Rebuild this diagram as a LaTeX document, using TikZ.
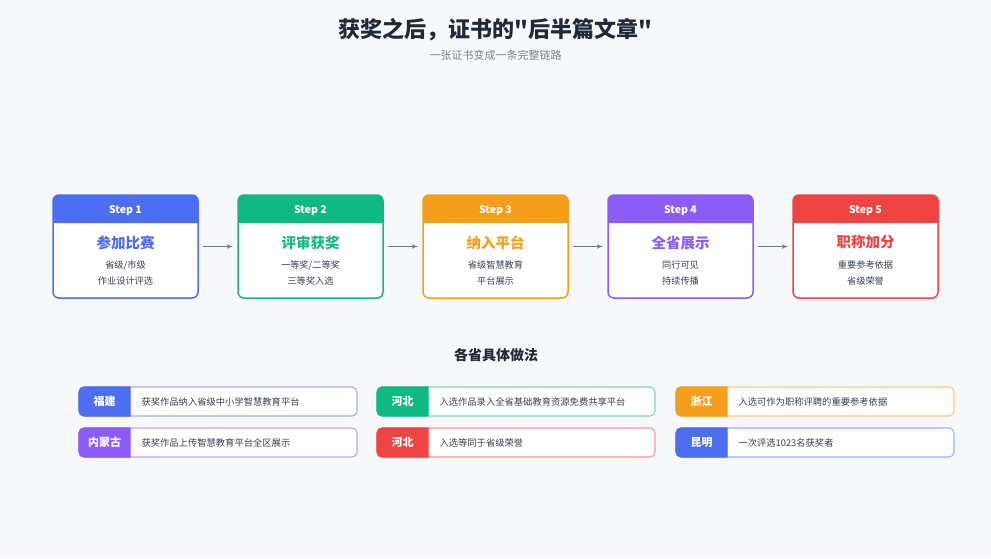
\documentclass[tikz,border=0pt]{standalone}
\usepackage{fontspec}
\setmainfont{Noto Sans CJK SC}[Ligatures=TeXOff]
\usepackage{tikz}
\usetikzlibrary{arrows, positioning}

\definecolor{pagebg}{HTML}{F7F8FC}
\definecolor{titlegray}{HTML}{1F2937}
\definecolor{subgray}{HTML}{6B7280}
\definecolor{textgray}{HTML}{374151}
\definecolor{arrowgray}{HTML}{6B7A90}
\definecolor{stepblue}{HTML}{4E6EF2}
\definecolor{stepgreen}{HTML}{10B981}
\definecolor{steporange}{HTML}{F59E1B}
\definecolor{steppurple}{HTML}{8B5CF6}
\definecolor{stepred}{HTML}{EF4444}

\begin{document}
\begin{tikzpicture}[x=1pt, y=1pt, node distance=40pt, auto]
        \tikzstyle{card} = [rectangle, draw, fill=white, line width=1.5pt, rounded corners=6pt, minimum width=145pt, minimum height=103pt, outer sep=0pt, inner sep=0pt]
        \tikzstyle{steplbl} = [text=white, font=\fontsize{10.5}{12}\selectfont\bfseries]
        \tikzstyle{steptitle} = [font=\fontsize{14.5}{17}\selectfont\bfseries]
        \tikzstyle{stepdesc} = [text=textgray, align=center, font=\fontsize{9.2}{16}\selectfont]
        \tikzstyle{line} = [draw, -latex', line width=1.1pt, color=arrowgray, shorten <=5pt, shorten >=5pt]
        \tikzstyle{row} = [rectangle, draw, fill=white, line width=1.1pt, rounded corners=5pt, minimum width=278pt, minimum height=29pt, outer sep=0pt, inner sep=0pt]
        \tikzstyle{provlbl} = [text=white, font=\fontsize{11}{13}\selectfont\bfseries]
        \tikzstyle{provdesc} = [anchor=west, text=textgray, font=\fontsize{9.3}{11}\selectfont]

        % page
        \fill [pagebg] (0,0) rectangle (991,-558);
        \useasboundingbox (0,0) rectangle (991,-558);

        \node [text=titlegray, font=\fontsize{22}{26}\selectfont\bfseries] (title) at (495.5,-30) {获奖之后，证书的"后半篇文章"};
        \node [text=subgray!90, font=\fontsize{11}{13}\selectfont] (subtitle) at (495.5,-55) {一张证书变成一条完整链路};

        % steps
        \node [card, draw=stepblue] (s1) at (125.5,-246.5) {};
        \node [card, draw=stepgreen, right=of s1] (s2) {};
        \node [card, draw=steporange, right=of s2] (s3) {};
        \node [card, draw=steppurple, right=of s3] (s4) {};
        \node [card, draw=stepred, right=of s4] (s5) {};

        \fill [stepblue] ([yshift=-28pt]s1.north west) {[rounded corners=6pt] -- (s1.north west) -- (s1.north east)} -- ([yshift=-28pt]s1.north east) -- cycle;
        \fill [stepgreen] ([yshift=-28pt]s2.north west) {[rounded corners=6pt] -- (s2.north west) -- (s2.north east)} -- ([yshift=-28pt]s2.north east) -- cycle;
        \fill [steporange] ([yshift=-28pt]s3.north west) {[rounded corners=6pt] -- (s3.north west) -- (s3.north east)} -- ([yshift=-28pt]s3.north east) -- cycle;
        \fill [steppurple] ([yshift=-28pt]s4.north west) {[rounded corners=6pt] -- (s4.north west) -- (s4.north east)} -- ([yshift=-28pt]s4.north east) -- cycle;
        \fill [stepred] ([yshift=-28pt]s5.north west) {[rounded corners=6pt] -- (s5.north west) -- (s5.north east)} -- ([yshift=-28pt]s5.north east) -- cycle;

        \node [steplbl] (h1) at ([yshift=-16pt]s1.north) {Step 1};
        \node [steplbl] (h2) at ([yshift=-16pt]s2.north) {Step 2};
        \node [steplbl] (h3) at ([yshift=-16pt]s3.north) {Step 3};
        \node [steplbl] (h4) at ([yshift=-16pt]s4.north) {Step 4};
        \node [steplbl] (h5) at ([yshift=-16pt]s5.north) {Step 5};

        \node [steptitle, text=stepblue] (t1) at ([yshift=-47.5pt]s1.north) {参加比赛};
        \node [steptitle, text=stepgreen] (t2) at ([yshift=-47.5pt]s2.north) {评审获奖};
        \node [steptitle, text=steporange] (t3) at ([yshift=-47.5pt]s3.north) {纳入平台};
        \node [steptitle, text=steppurple] (t4) at ([yshift=-47.5pt]s4.north) {全省展示};
        \node [steptitle, text=stepred] (t5) at ([yshift=-47.5pt]s5.north) {职称加分};

        \node [stepdesc] (d1) at ([yshift=-78pt]s1.north) {省级/市级\\作业设计评选};
        \node [stepdesc] (d2) at ([yshift=-78pt]s2.north) {一等奖/二等奖\\三等奖入选};
        \node [stepdesc] (d3) at ([yshift=-78pt]s3.north) {省级智慧教育\\平台展示};
        \node [stepdesc] (d4) at ([yshift=-78pt]s4.north) {同行可见\\持续传播};
        \node [stepdesc] (d5) at ([yshift=-78pt]s5.north) {重要参考依据\\省级荣誉};

        \path [line] (s1) -- (s2);
        \path [line] (s2) -- (s3);
        \path [line] (s3) -- (s4);
        \path [line] (s4) -- (s5);

        % provinces
        \node [text=titlegray, font=\fontsize{14}{16}\selectfont\bfseries] (sect) at (496,-355) {各省具体做法};

        \node [row, draw=stepblue!55] (r1) at (218,-401.5) {};
        \node [row, draw=steppurple!55, below=12pt of r1] (r2) {};
        \node [row, draw=stepgreen!55] (r3) at (516,-401.5) {};
        \node [row, draw=stepred!55, below=12pt of r3] (r4) {};
        \node [row, draw=steporange!55] (r5) at (815,-401.5) {};
        \node [row, draw=stepblue!55, below=12pt of r5] (r6) {};

        \filldraw [stepblue, line width=1.1pt] ([xshift=51pt]r1.north west) {[rounded corners=5pt] -- (r1.north west) -- (r1.south west)} -- ([xshift=51pt]r1.south west) -- cycle;
        \filldraw [steppurple, line width=1.1pt] ([xshift=51pt]r2.north west) {[rounded corners=5pt] -- (r2.north west) -- (r2.south west)} -- ([xshift=51pt]r2.south west) -- cycle;
        \filldraw [stepgreen, line width=1.1pt] ([xshift=51pt]r3.north west) {[rounded corners=5pt] -- (r3.north west) -- (r3.south west)} -- ([xshift=51pt]r3.south west) -- cycle;
        \filldraw [stepred, line width=1.1pt] ([xshift=51pt]r4.north west) {[rounded corners=5pt] -- (r4.north west) -- (r4.south west)} -- ([xshift=51pt]r4.south west) -- cycle;
        \filldraw [steporange, line width=1.1pt] ([xshift=51pt]r5.north west) {[rounded corners=5pt] -- (r5.north west) -- (r5.south west)} -- ([xshift=51pt]r5.south west) -- cycle;
        \filldraw [stepblue, line width=1.1pt] ([xshift=51pt]r6.north west) {[rounded corners=5pt] -- (r6.north west) -- (r6.south west)} -- ([xshift=51pt]r6.south west) -- cycle;

        \node [provlbl] (p1) at ([xshift=25.5pt]r1.west) {福建};
        \node [provlbl] (p2) at ([xshift=25.5pt]r2.west) {内蒙古};
        \node [provlbl] (p3) at ([xshift=25.5pt]r3.west) {河北};
        \node [provlbl] (p4) at ([xshift=25.5pt]r4.west) {河北};
        \node [provlbl] (p5) at ([xshift=25.5pt]r5.west) {浙江};
        \node [provlbl] (p6) at ([xshift=25.5pt]r6.west) {昆明};

        \node [provdesc] (q1) at ([xshift=59pt]r1.west) {获奖作品纳入省级中小学智慧教育平台};
        \node [provdesc] (q2) at ([xshift=59pt]r2.west) {获奖作品上传智慧教育平台全区展示};
        \node [provdesc] (q3) at ([xshift=59pt]r3.west) {入选作品录入全省基础教育资源免费共享平台};
        \node [provdesc] (q4) at ([xshift=59pt]r4.west) {入选等同于省级荣誉};
        \node [provdesc] (q5) at ([xshift=59pt]r5.west) {入选可作为职称评聘的重要参考依据};
        \node [provdesc] (q6) at ([xshift=59pt]r6.west) {一次评选1023名获奖者};
    \end{tikzpicture}
\end{document}
